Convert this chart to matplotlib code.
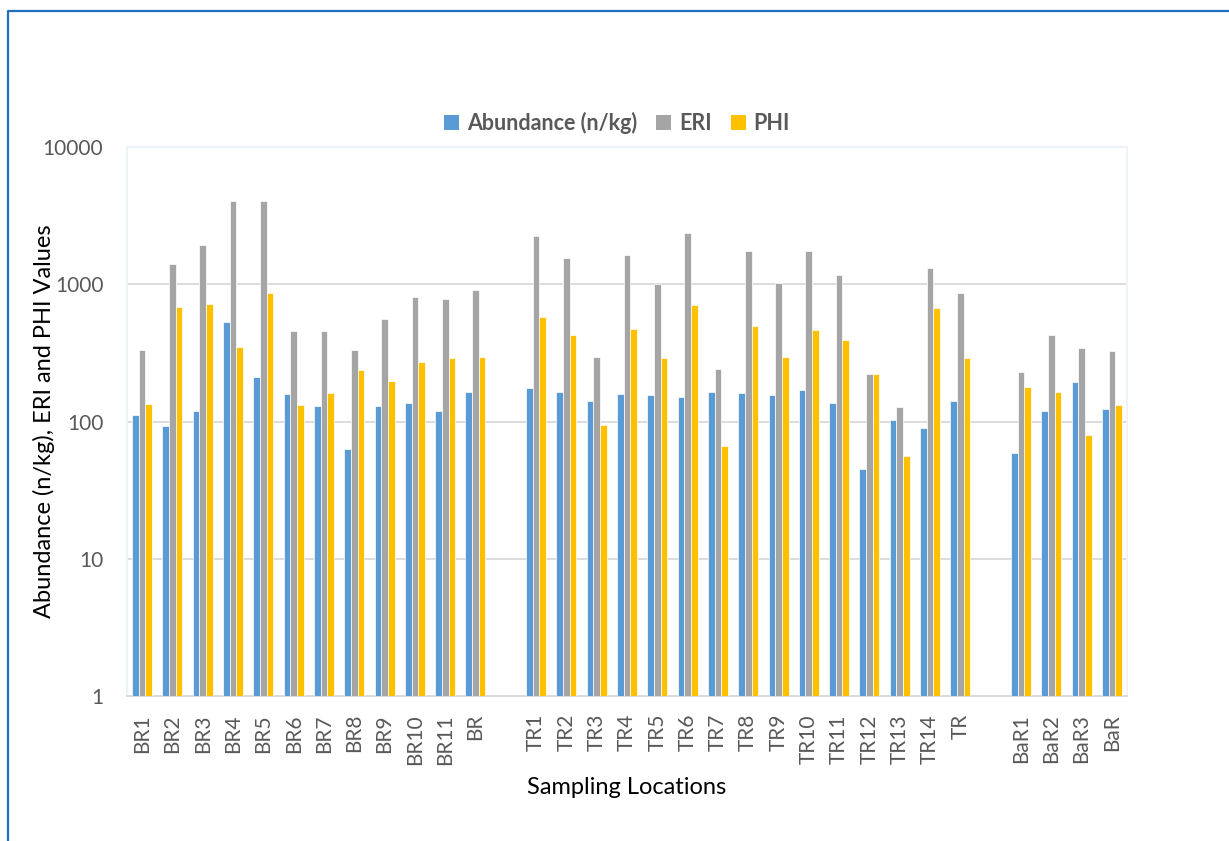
import matplotlib.pyplot as plt
import numpy as np
from matplotlib.lines import Line2D
from matplotlib.patches import Patch

plt.rcParams['font.family'] = ['Lato', 'DejaVu Sans']

# sampling sites, grouped by river; an empty slot separates the groups
br_sites = ['BR1', 'BR2', 'BR3', 'BR4', 'BR5', 'BR6', 'BR7', 'BR8', 'BR9', 'BR10', 'BR11', 'BR']
tr_sites = ['TR1', 'TR2', 'TR3', 'TR4', 'TR5', 'TR6', 'TR7', 'TR8', 'TR9', 'TR10',
            'TR11', 'TR12', 'TR13', 'TR14', 'TR']
bar_sites = ['BaR1', 'BaR2', 'BaR3', 'BaR']

abundance_br = [111, 92, 120, 531, 211, 158, 129, 63, 129, 136, 120, 163]
eri_br = [331, 1400, 1930, 4075, 4030, 458, 456, 331, 558, 813, 776, 915]
phi_br = [135, 687, 722, 348, 865, 132, 161, 237, 196, 270, 292, 297]

abundance_tr = [175, 164, 141, 158, 156, 152, 164, 160, 156, 170, 136, 45, 102, 89, 141]
eri_tr = [2235, 1542, 294, 1641, 1000, 2377, 240, 1735, 1017, 1745, 1172, 223, 127, 1318, 865]
phi_tr = [573, 426, 94, 471, 289, 706, 66, 493, 296, 463, 392, 223, 56, 672, 292]

abundance_bar = [59, 119, 194, 124]
eri_bar = [231, 426, 344, 325]
phi_bar = [177, 163, 80, 132]

labels = br_sites + tr_sites + bar_sites
abundance = abundance_br + abundance_tr + abundance_bar
eri = eri_br + eri_tr + eri_bar
phi = phi_br + phi_tr + phi_bar

# slot positions with one blank slot between the river groups
x = np.concatenate([
    np.arange(len(br_sites)),
    np.arange(len(tr_sites)) + len(br_sites) + 1,
    np.arange(len(bar_sites)) + len(br_sites) + len(tr_sites) + 2,
])

blue, grey, gold = '#5B9BD5', '#A5A5A5', '#FFC000'
w = 0.22

fig = plt.figure(figsize=(12.29, 8.41), dpi=100)
W, H = 1229, 841
ax = fig.add_axes([127 / W, 1 - 696 / H, 1000 / W, 549 / H])

ax.bar(x - w, abundance, w, color=blue, edgecolor='white', linewidth=0.5, zorder=3)
ax.bar(x, eri, w, color=grey, edgecolor='white', linewidth=0.5, zorder=3)
ax.bar(x + w, phi, w, color=gold, edgecolor='white', linewidth=0.5, zorder=3)

ax.set_yscale('log')
ax.set_ylim(1, 10000)
ax.set_xlim(-0.5, x[-1] + 0.5)
ax.set_yticks([1, 10, 100, 1000, 10000])
ax.set_yticklabels(['1', '10', '100', '1000', '10000'])
ax.minorticks_off()
ax.set_xticks(x)
ax.set_xticklabels(labels, rotation=90)
ax.tick_params(axis='both', length=0, labelsize=15, colors='#595959')
ax.tick_params(axis='y', pad=17)
ax.tick_params(axis='x', pad=13)

ax.grid(axis='y', color='#D9D9D9', linewidth=1.3, zorder=0)
for side in ['left', 'right', 'top']:
    ax.spines[side].set_color('#EEF3FA')
    ax.spines[side].set_linewidth(1.5)
ax.spines['bottom'].set_color('#D9D9D9')
ax.spines['bottom'].set_linewidth(1.3)

fig.text(44 / W, 1 - 421 / H, 'Abundance (n/kg), ERI and PHI Values', rotation=90,
         ha='center', va='center', fontsize=17, color='black')
fig.text(627 / W, 1 - 787 / H, 'Sampling Locations', ha='center', va='center',
         fontsize=17, color='black')

handles = [Patch(facecolor=blue), Patch(facecolor=grey), Patch(facecolor=gold)]
leg = fig.legend(handles, ['Abundance (n/kg)', 'ERI', 'PHI'], loc='center',
                 bbox_to_anchor=(617 / W, 1 - 123 / H), ncol=3, frameon=False,
                 handlelength=0.7, handleheight=0.7, handletextpad=0.35,
                 columnspacing=0.9, prop={'weight': 'bold', 'size': 15.5})
for t in leg.get_texts():
    t.set_color('#595959')

# blue frame along the left and top edges
fig.add_artist(Line2D([8 / W, 8 / W, 1], [0, 1 - 11 / H, 1 - 11 / H],
                      transform=fig.transFigure, color='#1F6FBF', linewidth=1.6))

fig.savefig('out.png', dpi=100)
